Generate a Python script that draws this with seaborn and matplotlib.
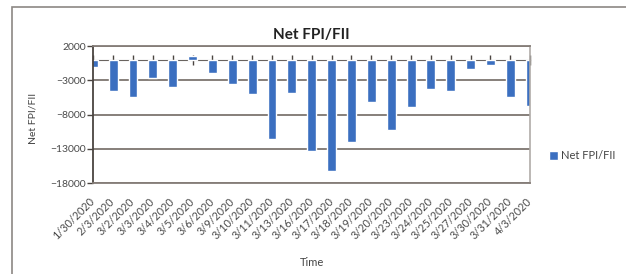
import matplotlib
matplotlib.use('Agg')
import matplotlib.pyplot as plt
import matplotlib.patches as mpatches
import seaborn as sns

dates = ['1/30/2020', '2/3/2020', '3/2/2020', '3/3/2020', '3/4/2020', '3/5/2020',
         '3/6/2020', '3/9/2020', '3/10/2020', '3/11/2020', '3/13/2020', '3/16/2020',
         '3/17/2020', '3/18/2020', '3/19/2020', '3/20/2020', '3/23/2020', '3/24/2020',
         '3/25/2020', '3/27/2020', '3/30/2020', '3/31/2020', '4/3/2020']
net_fpi = [-1000, -4600, -5500, -2600, -4000, 500,
           -1900, -3600, -5000, -11600, -4900, -13300,
           -16200, -12000, -6200, -10300, -6900, -4300,
           -4500, -1300, -700, -5450, -6800]
y_ticks = [2000, -3000, -8000, -13000, -18000]

sns.set_style('white')
plt.rcParams['font.family'] = ['Lato', 'DejaVu Sans']

fig = plt.figure(figsize=(6.26, 2.74), dpi=100)
ax = fig.add_axes([0.149, 0.332, 0.698, 0.500])

sns.barplot(x=dates, y=net_fpi, color='#3b6fc0', width=0.45, saturation=1,
            label='Net FPI/FII', ax=ax)

ax.set_xlim(0, len(dates) - 1)
ax.set_ylim(y_ticks[-1], y_ticks[0])
ax.set_yticks(y_ticks)
ax.yaxis.grid(True, color='#7d7570', linewidth=1.3)
ax.set_axisbelow(True)

for side in ['top', 'bottom']:
    ax.spines[side].set_color('#857d78')
    ax.spines[side].set_linewidth(1.3)
ax.spines['right'].set_color('#b0aca8')
ax.spines['right'].set_linewidth(1.2)
ax.spines['left'].set_color('#4a4440')
ax.spines['left'].set_linewidth(1.3)

ax.tick_params(axis='y', direction='out', length=4, width=1, color='#4a4440',
               labelsize=7.5, labelcolor='#4a4a4a', pad=1, left=True)
ax.tick_params(axis='x', length=0, labelsize=7.8, labelcolor='#4a4a4a', pad=12)
for lbl in ax.get_xticklabels():
    lbl.set_rotation(45)
    lbl.set_ha('right')
    lbl.set_va('center')
    lbl.set_rotation_mode('anchor')

# horizontal axis crossing at zero, with tick marks
lo, hi = ax.get_ylim()
zero_axis = ax.secondary_xaxis((0 - lo) / (hi - lo))
zero_axis.set_xticks(range(len(dates)))
zero_axis.tick_params(direction='inout', length=7, width=1, color='#4a4440',
                      labelbottom=False, labeltop=False)
zero_axis.spines['bottom'].set_color('#6a6460')
zero_axis.spines['top'].set_color('#6a6460')

ax.set_title('Net FPI/FII', fontsize=11, fontweight='bold', color='#222222', pad=5)
ax.set_xlabel('Time', fontsize=8, color='#444444', labelpad=11)
ax.set_ylabel('Net FPI/FII', fontsize=7.5, color='#444444')
ax.yaxis.set_label_coords(-0.127, 0.47)

ax.legend(loc='center left', bbox_to_anchor=(1.02, 0.2), frameon=False,
          fontsize=8, handlelength=0.8, handleheight=0.9, handletextpad=0.3,
          labelcolor='#444444')

fig.patches.append(mpatches.Rectangle((0.019, -0.05), 1.1, 1.0245,
                                      transform=fig.transFigure, fill=False,
                                      edgecolor='#8c8884', linewidth=1.2))

fig.savefig('out.png', dpi=100)
